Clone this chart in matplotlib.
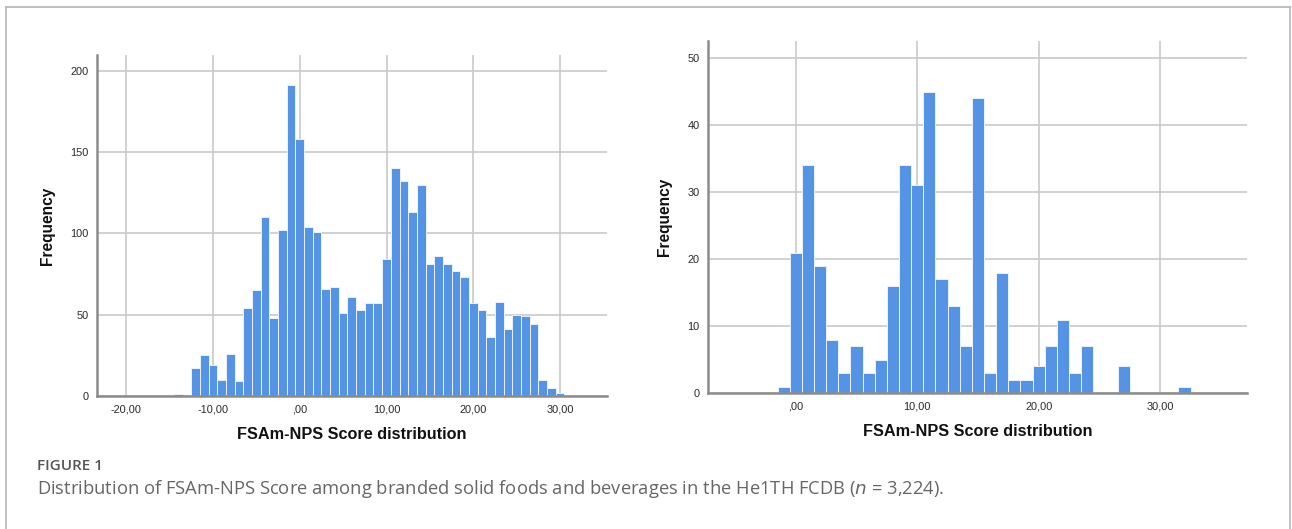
import matplotlib
matplotlib.use("Agg")
import matplotlib.pyplot as plt
from matplotlib.lines import Line2D

# ---- data ----
left_centers = [-14, -12, -11, -10, -9, -8, -7, -6, -5, -4, -3, -2, -1, 0,
                1, 2, 3, 4, 5, 6, 7, 8, 9, 10, 11, 12, 13, 14, 15, 16, 17,
                18, 19, 20, 21, 22, 23, 24, 25, 26, 27, 28, 29, 30]
left_counts = [1, 17, 25, 19, 10, 26, 9, 54, 65, 110, 48, 102, 191, 158,
               104, 101, 66, 67, 51, 61, 53, 57, 57, 84, 140, 132, 113, 130, 81, 86, 81,
               77, 73, 57, 53, 36, 58, 41, 50, 49, 44, 10, 5, 2]

right_centers = [-1, 0, 1, 2, 3, 4, 5, 6, 7, 8, 9, 10, 11, 12, 13, 14, 15,
                 16, 17, 18, 19, 20, 21, 22, 23, 24, 27, 32]
right_counts = [1, 21, 34, 19, 8, 3, 7, 3, 5, 16, 34, 31, 45, 17, 13, 7, 44,
                3, 18, 2, 2, 4, 7, 11, 3, 7, 4, 1]

left_xticks = [-20, -10, 0, 10, 20, 30]
left_xticklabels = ["-20,00", "-10,00", ",00", "10,00", "20,00", "30,00"]
left_yticks = [0, 50, 100, 150, 200]

right_xticks = [0, 10, 20, 30]
right_xticklabels = [",00", "10,00", "20,00", "30,00"]
right_yticks = [0, 10, 20, 30, 40, 50]

xlabel = "FSAm-NPS Score distribution"
ylabel = "Frequency"
fig_label = "FIGURE 1"
caption_pre = "Distribution of FSAm-NPS Score among branded solid foods and beverages in the He1TH FCDB ("
caption_post = " = 3,224)."

# ---- style ----
W, H = 1292, 529
BAR = "#5594e4"
GRID = "#cacaca"
SPINE = "#8c8c8c"

fig = plt.figure(figsize=(W / 100, H / 100), dpi=100)
fig.patch.set_facecolor("white")


def px_axes(x0, y0, x1, y1):
    return fig.add_axes([x0 / W, 1 - y1 / H, (x1 - x0) / W, (y1 - y0) / H])


def style(ax, xticks, xlabels, yticks, xlim, ylim):
    ax.set_xlim(*xlim)
    ax.set_ylim(*ylim)
    ax.set_xticks(xticks)
    ax.set_xticklabels(xlabels)
    ax.set_yticks(yticks)
    ax.set_axisbelow(True)
    ax.grid(True, color=GRID, linewidth=1.2)
    for s in ("top", "right"):
        ax.spines[s].set_visible(False)
    ax.spines["left"].set_color(SPINE)
    ax.spines["left"].set_linewidth(1.8)
    ax.spines["bottom"].set_color(SPINE)
    ax.spines["bottom"].set_linewidth(1.8)
    ax.tick_params(length=0, labelsize=7.9, colors="#2a2a2a", pad=6)
    ax.set_xlabel(xlabel, fontsize=11.7, fontweight="bold", family="Liberation Sans",
                  color="#111111", labelpad=9)
    ax.set_ylabel(ylabel, fontsize=11.2, fontweight="bold", family="Liberation Sans",
                  color="#111111", labelpad=11)
    for t in ax.get_xticklabels() + ax.get_yticklabels():
        t.set_family("Liberation Sans")


ax1 = px_axes(97, 55, 607, 396)
ax1.bar(left_centers, left_counts, width=1.0, color=BAR, edgecolor="#eaf2fc", linewidth=0.7)
style(ax1, left_xticks, left_xticklabels, left_yticks, (-23.35, 35.4), (0, 209.6))

ax2 = px_axes(708, 40.7, 1247, 393.3)
ax2.bar(right_centers, right_counts, width=1.0, color=BAR, edgecolor="#eaf2fc", linewidth=0.7)
style(ax2, right_xticks, right_xticklabels, right_yticks, (-7.23, 37.15), (0, 52.6))

# frame
fc = "#b5b5b5"
fig.add_artist(Line2D([6 / W, 1290 / W], [1 - 7 / H, 1 - 7 / H], color=fc, lw=1.2, transform=fig.transFigure))
fig.add_artist(Line2D([6 / W, 6 / W], [0, 1 - 7 / H], color=fc, lw=1.2, transform=fig.transFigure))
fig.add_artist(Line2D([1290 / W, 1290 / W], [0, 1 - 7 / H], color=fc, lw=1.2, transform=fig.transFigure))

# caption
fig.text(37 / W, 1 - 466 / H, fig_label, fontsize=11, color="#555555", family="Open Sans",
         fontweight="semibold", va="center", ha="left")
fig.text(37 / W, 1 - 489 / H,
         caption_pre + r"$\it{n}$" + caption_post,
         fontsize=13.2, color="#666666", family="Open Sans", va="center", ha="left")

fig.savefig("out.png", dpi=100)
